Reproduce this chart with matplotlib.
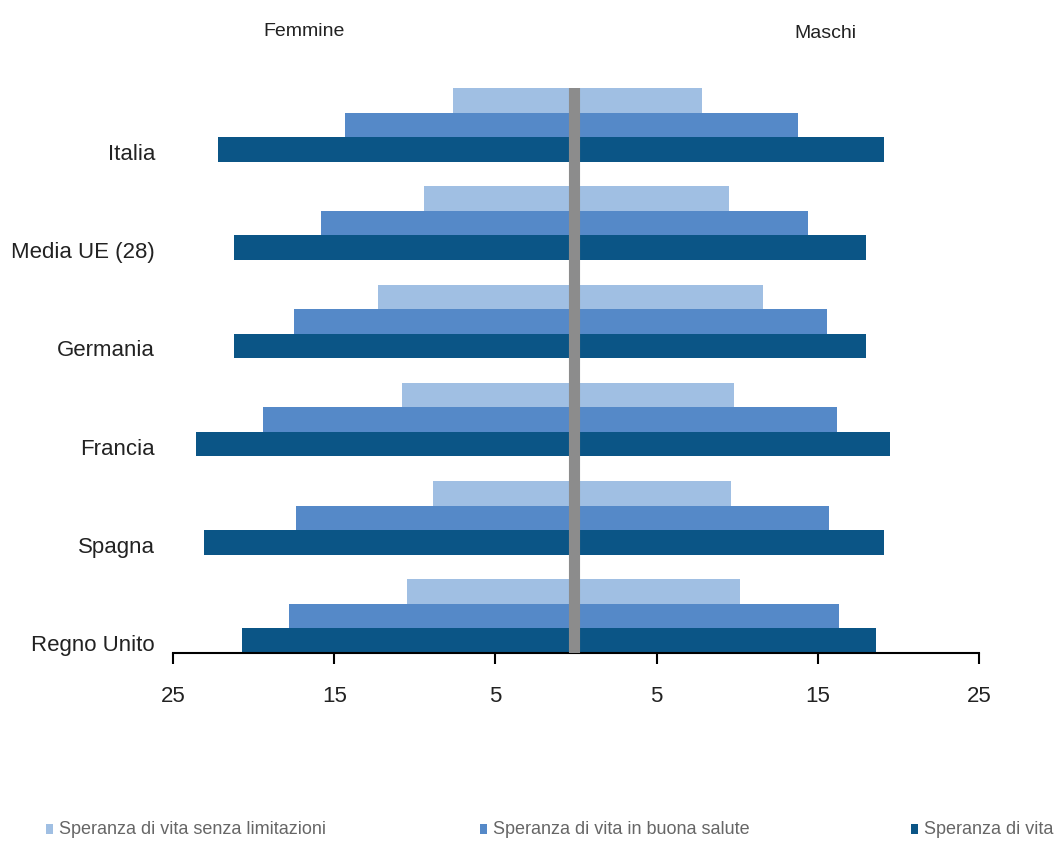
import numpy as np
import matplotlib.pyplot as plt
from matplotlib.patches import Rectangle

plt.rcParams['font.family'] = ['Liberation Sans', 'DejaVu Sans']

# Data (years)
countries = ['Italia', 'Media UE (28)', 'Germania', 'Francia', 'Spagna', 'Regno Unito']
series = ['Speranza di vita senza limitazioni', 'Speranza di vita in buona salute', 'Speranza di vita']

femmine_senza_lim = [7.6, 9.4, 12.3, 10.8, 8.9, 10.5]
femmine_buona_salute = [14.3, 15.8, 17.5, 19.4, 17.4, 17.8]
femmine_vita = [22.2, 21.2, 21.2, 23.6, 23.1, 20.7]

maschi_senza_lim = [7.8, 9.5, 11.6, 9.8, 9.6, 10.2]
maschi_buona_salute = [13.8, 14.4, 15.6, 16.2, 15.7, 16.3]
maschi_vita = [19.1, 18.0, 18.0, 19.5, 19.1, 18.6]

xtick_vals = [-25, -15, -5, 5, 15, 25]
xtick_labels = ['25', '15', '5', '5', '15', '25']

colors = ['#a0bfe3', '#5589c8', '#0b5586']

fig = plt.figure(figsize=(10.61, 8.43), dpi=100)
ax = fig.add_axes([173 / 1061, 1 - 653 / 843, (979 - 173) / 1061, (653 - 88) / 843])

# each group: 3 stacked bars of height 1, group spacing 4
idx = np.arange(len(countries)) * 4
fem = [femmine_senza_lim, femmine_buona_salute, femmine_vita]
mas = [maschi_senza_lim, maschi_buona_salute, maschi_vita]
for k in range(3):
    y = idx + 0.5 + k
    ax.barh(y, -np.array(fem[k]), height=1.0, color=colors[k], edgecolor='none')
    ax.barh(y, np.array(mas[k]), height=1.0, color=colors[k], edgecolor='none')

ax.axvline(-0.1, color='#8c8c8c', lw=8, zorder=5)

ax.set_xlim(-25, 25)
ax.set_ylim(23, 0)

ax.set_xticks(xtick_vals)
ax.set_xticklabels(xtick_labels, fontsize=16, color='#222222')
ax.tick_params(axis='x', length=8, width=1.5, pad=16, direction='out')

ax.set_yticks(idx + 2.6)
ax.set_yticklabels(countries, fontsize=16, color='#222222')
ax.tick_params(axis='y', length=0, pad=13)

for s in ['top', 'right', 'left']:
    ax.spines[s].set_visible(False)
ax.spines['bottom'].set_linewidth(1.5)

fig.text(304 / 1061, 1 - 31 / 843, 'Femmine', ha='center', va='center', fontsize=14, color='#222222')
fig.text(825 / 1061, 1 - 33 / 843, 'Maschi', ha='center', va='center', fontsize=14, color='#222222')

# legend along the bottom
leg_x = [46, 480, 911]
leg_y = 1 - 829 / 843
for k in range(3):
    fig.add_artist(Rectangle((leg_x[k] / 1061, leg_y - 5 / 843), 7 / 1061, 10 / 843,
                             transform=fig.transFigure, color=colors[k], lw=0))
    fig.text((leg_x[k] + 13) / 1061, leg_y, series[k], ha='left', va='center',
             fontsize=13, color='#666666')

fig.savefig('out.png', dpi=100)
